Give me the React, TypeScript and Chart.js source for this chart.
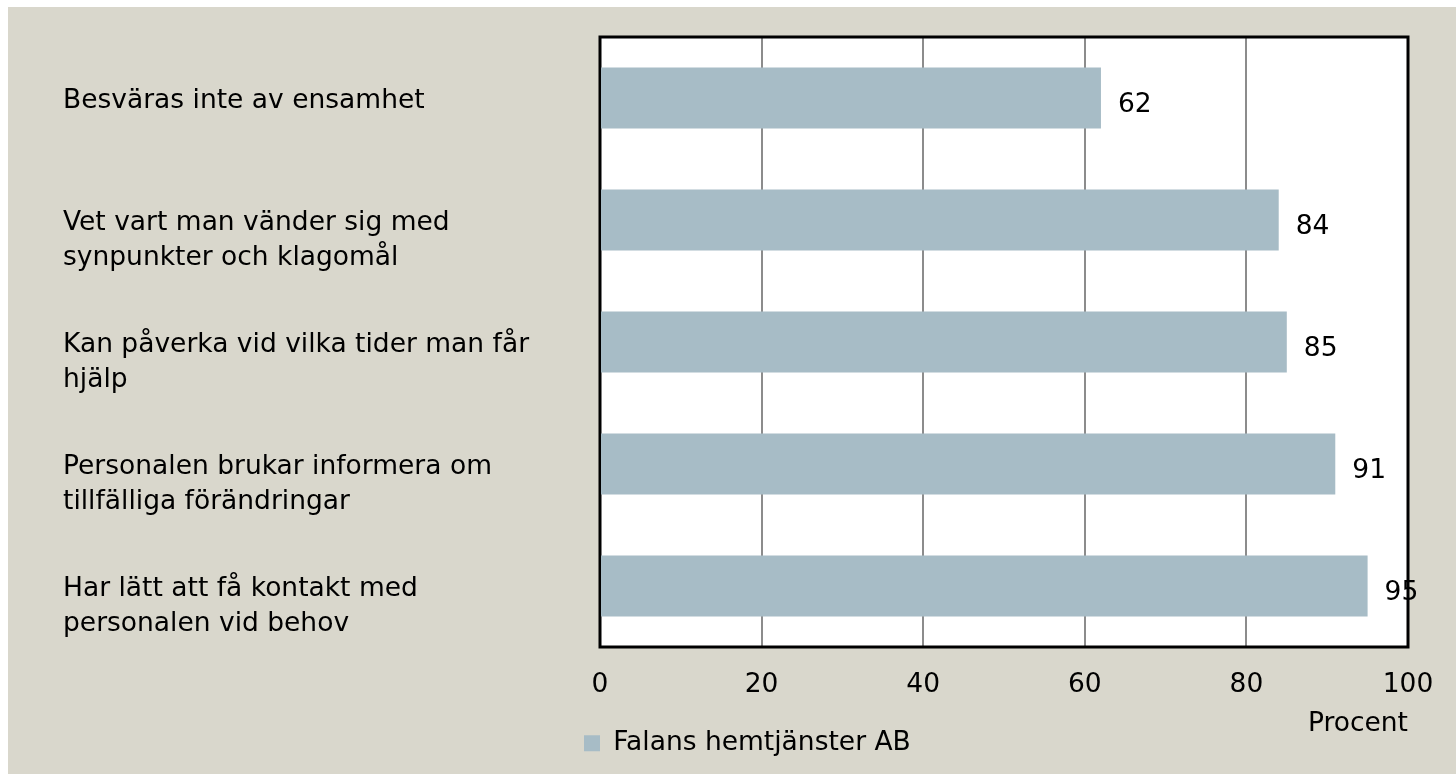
import React, { useEffect, useRef } from "react";
import { Chart, registerables } from "chart.js";

Chart.register(...registerables);

const categories: string[][] = [
  ["Besväras inte av ensamhet"],
  ["Vet vart man vänder sig med", "synpunkter och klagomål"],
  ["Kan påverka vid vilka tider man får", "hjälp"],
  ["Personalen brukar informera om", "tillfälliga förändringar"],
  ["Har lätt att få kontakt med", "personalen vid behov"],
];
const values: number[] = [62, 84, 85, 91, 95];
const xTickValues: number[] = [0, 20, 40, 60, 80, 100];
const seriesLabel = "Falans hemtjänster AB";
const axisTitle = "Procent";

const FONT = "'DejaVu Sans', sans-serif";
const SIZE = 26.5;
const BG = "#d9d7cc";
const BAR = "#a7bcc6";

export default function App() {
  const ref = useRef<HTMLCanvasElement>(null);

  useEffect(() => {
    if (!ref.current) return;
    const framePlugin = {
      id: "frame",
      afterLayout(chart: any) {
        const lg = chart.legend;
        const a = chart.chartArea;
        if (lg) {
          const w = lg.width;
          const h = lg.height;
          lg.left = a.left - 16;
          lg.right = lg.left + w;
          lg.top = a.bottom + 83;
          lg.bottom = lg.top + h;
        }
      },
      beforeDraw(chart: any) {
        const { ctx, chartArea: a, width, height } = chart;
        ctx.save();
        ctx.fillStyle = BG;
        ctx.fillRect(0, 0, width, height);
        ctx.fillStyle = "#ffffff";
        ctx.fillRect(a.left, a.top, a.right - a.left, a.bottom - a.top);
        ctx.restore();
      },
      beforeDatasetsDraw(chart: any) {
        const { ctx, chartArea: a } = chart;
        ctx.save();
        ctx.strokeStyle = "#000000";
        ctx.lineWidth = 3;
        ctx.strokeRect(a.left, a.top, a.right - a.left, a.bottom - a.top);
        ctx.restore();
      },
      afterDatasetsDraw(chart: any) {
        const { ctx } = chart;
        const meta = chart.getDatasetMeta(0);
        const data = chart.data.datasets[0].data;
        ctx.save();
        ctx.font = `${SIZE}px ${FONT}`;
        ctx.fillStyle = "#000000";
        ctx.textAlign = "left";
        ctx.textBaseline = "middle";
        meta.data.forEach((bar: any, i: number) => {
          ctx.fillText(String(data[i]), bar.x + 17, bar.y + 7);
        });
        ctx.restore();
      },
    };

    const font = { family: FONT, size: SIZE };

    const chart = new Chart(ref.current, {
      type: "bar",
      data: {
        labels: categories as any,
        datasets: [
          {
            label: seriesLabel,
            data: values,
            backgroundColor: BAR,
            borderWidth: 0,
            barPercentage: 0.5,
            categoryPercentage: 1,
          },
        ],
      },
      options: {
        indexAxis: "y",
        responsive: false,
        animation: false,
        layout: { padding: { top: 30, left: 55, right: 48, bottom: 10.5 } },
        scales: {
          x: {
            min: 0,
            max: 100,
            afterBuildTicks: (s: any) => {
              s.ticks = xTickValues.map((v) => ({ value: v }));
            },
            grid: { color: "#8c8c8c", lineWidth: 2, drawTicks: false },
            border: { display: false },
            ticks: { color: "#000000", font, padding: 22 },
            title: {
              display: true,
              text: axisTitle,
              align: "end",
              color: "#000000",
              font,
              padding: { top: 0, bottom: -13 },
            },
            afterFit: (s: any) => {
              s.height = 80;
            },
          },
          y: {
            grid: { display: false },
            border: { display: false },
            ticks: {
              color: "#000000",
              font: { family: FONT, size: SIZE, lineHeight: "35px" },
              crossAlign: "far",
              padding: 0,
              labelOffset: 21,
              callback: (_v: any, i: number) => {
                const l = categories[i];
                return l.length === 1 ? [l[0], ""] : l;
              },
            },
            afterFit: (s: any) => {
              s.width = 537;
              s.paddingTop = 0;
              s.paddingBottom = 0;
            },
          },
        },
        plugins: {
          legend: {
            position: "bottom",
            align: "start",
            fullSize: false,
            labels: {
              boxWidth: 16,
              boxHeight: 16,
              padding: 0,
              color: "#000000",
              font,
            },
          },
          tooltip: { enabled: false },
        },
      } as any,
      plugins: [framePlugin],
    });
    return () => chart.destroy();
  }, []);

  return (
    <div style={{ position: "fixed", left: 8, top: 7, width: 1448, height: 767 }}>
      <canvas ref={ref} width={1448} height={767} style={{ display: "block" }} />
    </div>
  );
}
